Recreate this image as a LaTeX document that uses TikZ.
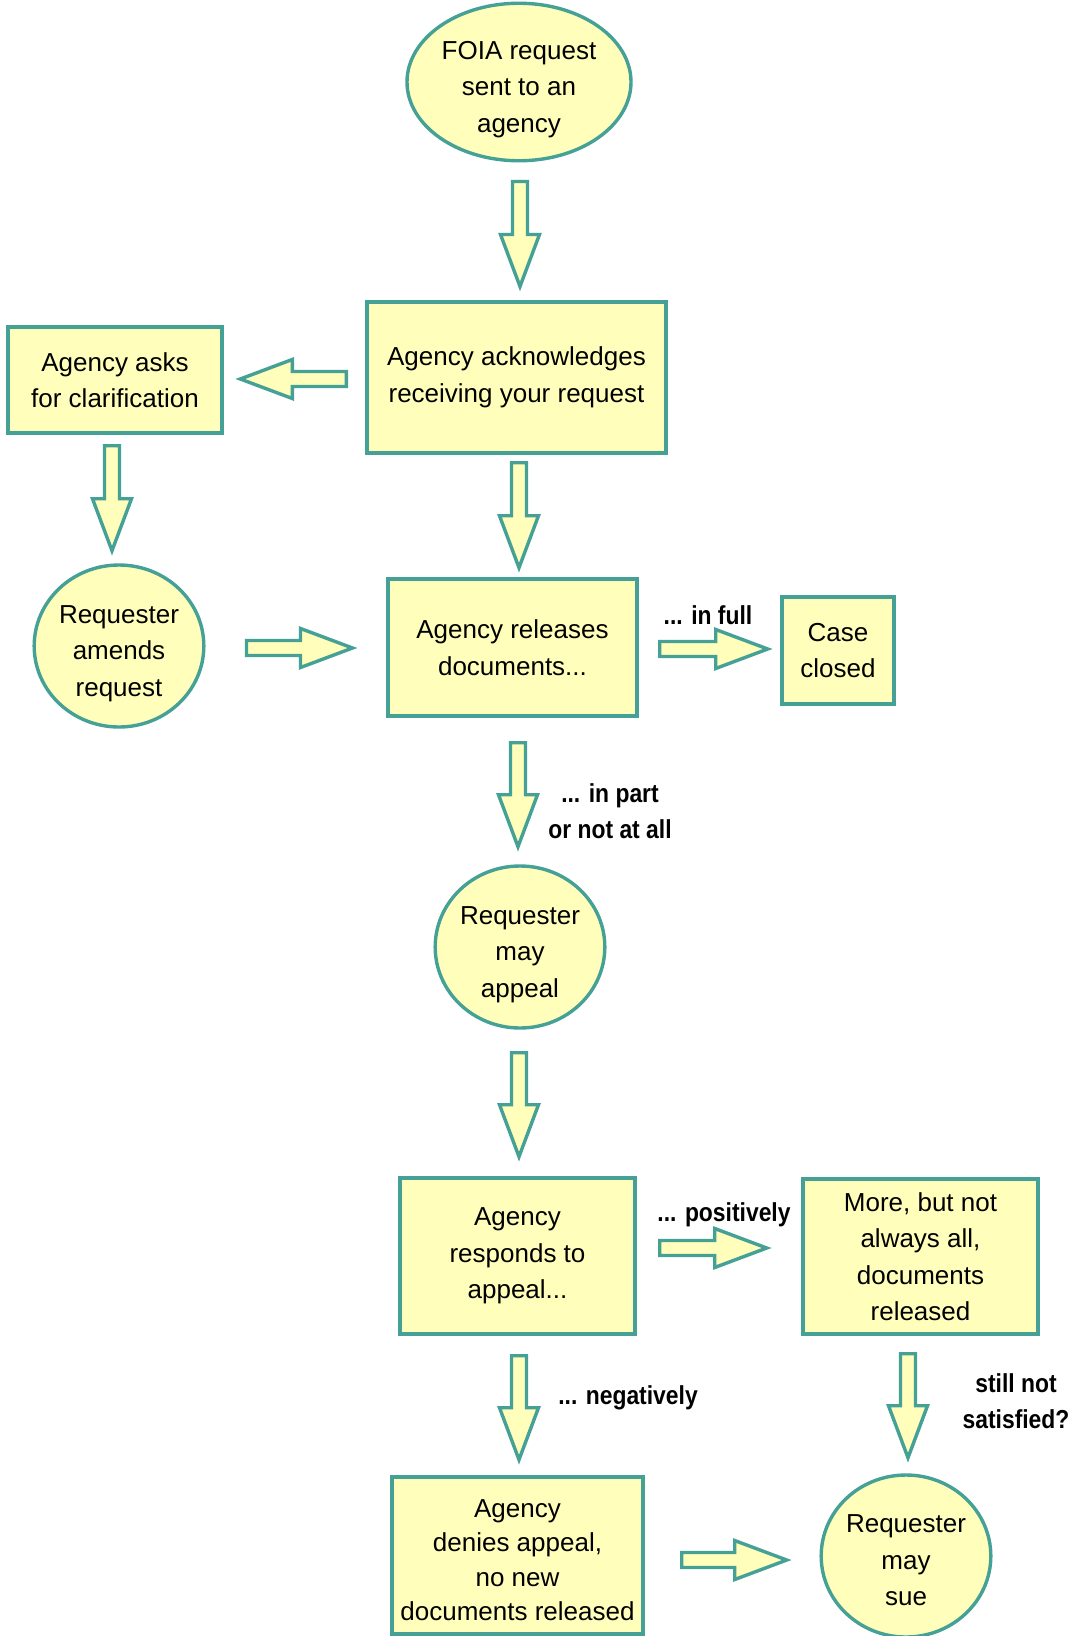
\documentclass[tikz,border=0pt]{standalone}
\usepackage{fontspec}
\setmainfont{Liberation Sans}
\newfontfamily\lblfont[FakeStretch=0.88]{Liberation Sans}
\usetikzlibrary{shapes.geometric,calc}
\definecolor{boxfill}{HTML}{FFFFBB}
\definecolor{boxline}{HTML}{45A096}
\tikzset{
  base/.style={draw=boxline, fill=boxfill, line width=3.4pt, inner sep=0pt, align=center,
    font=\fontsize{26}{36.5}\selectfont},
  rbox/.style={base, rectangle},
  oval/.style={base, ellipse},
  lbl/.style={align=center, font=\lblfont\bfseries\fontsize{26}{35.5}\selectfont},
  blkarrow/.style={draw=boxline, fill=boxfill, line width=3.4pt, line join=miter}
}
\newcommand\blkarr[3]{%
  \begin{scope}[shift={#1},rotate=#2]
    \draw[blkarrow] (0,7.5) -- (#3-52,7.5) -- (#3-52,19.5) -- (#3,0) -- (#3-52,-19.5) -- (#3-52,-7.5) -- (0,-7.5) -- cycle;
  \end{scope}}
\newcommand\lowr[1][33pt]{\rule{0pt}{#1}}
\begin{document}
\begin{tikzpicture}[x=1pt,y=-1pt]
\useasboundingbox[fill=white] (0,0) rectangle (1078,1636);
% nodes
\node[oval, minimum width=224, minimum height=152] (foia) at (519,82) {\lowr FOIA request\\sent to an\\agency};
\node[rbox, minimum width=299, minimum height=151] (ack) at (516.5,377.5) {Agency acknowledges\\receiving your request};
\node[rbox, minimum width=214, minimum height=106] (asks) at (115,380) {Agency asks\\for clarification};
\node[oval, minimum width=166, minimum height=162] (amends) at (119,646) {\lowr Requester\\amends\\request};
\node[rbox, minimum width=249, minimum height=137] (rel) at (512.5,647.5) {Agency releases\\documents...};
\node[rbox, minimum width=112, minimum height=107] (case) at (838,650.5) {Case\\closed};
\node[oval, minimum width=166, minimum height=162] (appeal) at (520,947) {\lowr Requester\\may\\appeal};
\node[rbox, minimum width=235, minimum height=156] (resp) at (517.5,1256) {Agency\\responds to\\appeal...};
\node[rbox, minimum width=235, minimum height=155] (more) at (920.5,1256.5) {More, but not\\always all,\\documents\\released};
\node[rbox, minimum width=251, minimum height=157, font=\fontsize{26}{34.5}\selectfont] (denies) at (517.5,1555.5) {\lowr[27pt]Agency\\denies appeal,\\no new\\documents released};
\node[oval, minimum width=166, minimum height=162] (sue) at (906,1556) {\lowr[27pt]Requester\\may\\sue};
% labels
\node[lbl] (lfull) at (708,615) {... in full};
\node[lbl] (lpart) at (610,811) {... in part\\or not at all};
\node[lbl] (lpos) at (724,1215) {... positively};
\node[lbl] (lneg) at (628,1398) {... negatively};
\node[lbl] (lstill) at (1016,1401) {still not\\satisfied?};
% block arrows
\blkarr{($(foia.south)+(1,19)$)}{-90}{105}
\blkarr{($(ack.west)+(-19,1.5)$)}{180}{106}
\blkarr{($(asks.south)+(-3,11)$)}{-90}{105}
\blkarr{($(ack.south)+(2.5,8)$)}{-90}{105}
\blkarr{($(amends.east)+(41,2)$)}{0}{106}
\blkarr{($(rel.east)+(21,1.5)$)}{0}{108}
\blkarr{($(rel.south)+(5.5,25)$)}{-90}{104}
\blkarr{($(appeal.south)+(-1,23)$)}{-90}{104}
\blkarr{($(resp.east)+(23,-8)$)}{0}{107}
\blkarr{($(resp.south)+(1.5,20)$)}{-90}{104}
\blkarr{($(more.south)+(-12.5,18)$)}{-90}{104}
\blkarr{($(denies.east)+(37,4.5)$)}{0}{105}
\end{tikzpicture}
\end{document}
